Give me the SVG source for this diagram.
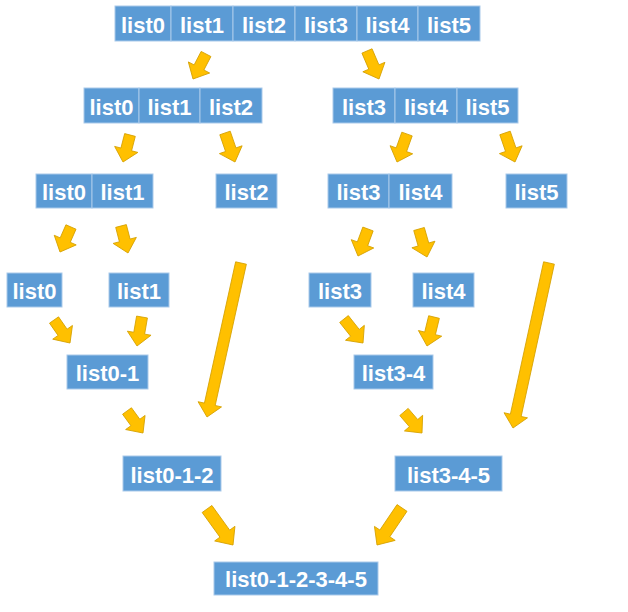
<svg xmlns="http://www.w3.org/2000/svg" width="628" height="612" viewBox="0 0 628 612">
<style>
.c{fill:#5B9BD5;stroke:#A9C9EA;stroke-width:1}
.t{fill:#fff;font-family:"Liberation Sans",Arial,sans-serif;font-weight:bold;font-size:22px;text-anchor:middle}
.a{fill:#FFC000;stroke:#D4A000;stroke-width:0.8;stroke-linejoin:miter}
</style>
<rect width="628" height="612" fill="#fff"/>
<g id="connectors">
<polygon class="a" points="-28.2,-5.5 -13,-5.5 -13,-12 0,0 -13,12 -13,5.5 -28.2,5.5" transform="translate(193,79) rotate(117.5)"/>
<polygon class="a" points="-30.5,-5.5 -13,-5.5 -13,-12 0,0 -13,12 -13,5.5 -30.5,5.5" transform="translate(379,79) rotate(66.8)"/>
<polygon class="a" points="-27.9,-5.5 -13,-5.5 -13,-12 0,0 -13,12 -13,5.5 -27.9,5.5" transform="translate(123,162) rotate(104.5)"/>
<polygon class="a" points="-30.7,-5.5 -13,-5.5 -13,-12 0,0 -13,12 -13,5.5 -30.7,5.5" transform="translate(235,162) rotate(71)"/>
<polygon class="a" points="-29.7,-5.5 -13,-5.5 -13,-12 0,0 -13,12 -13,5.5 -29.7,5.5" transform="translate(397,162) rotate(109.7)"/>
<polygon class="a" points="-30.7,-5.5 -13,-5.5 -13,-12 0,0 -13,12 -13,5.5 -30.7,5.5" transform="translate(515,162) rotate(71)"/>
<polygon class="a" points="-27.3,-5.5 -13,-5.5 -13,-12 0,0 -13,12 -13,5.5 -27.3,5.5" transform="translate(60,252) rotate(113.7)"/>
<polygon class="a" points="-27.9,-5.5 -13,-5.5 -13,-12 0,0 -13,12 -13,5.5 -27.9,5.5" transform="translate(128,253) rotate(75.5)"/>
<polygon class="a" points="-28.8,-5.5 -13,-5.5 -13,-12 0,0 -13,12 -13,5.5 -28.8,5.5" transform="translate(358,256) rotate(110.3)"/>
<polygon class="a" points="-29.1,-5.5 -13,-5.5 -13,-12 0,0 -13,12 -13,5.5 -29.1,5.5" transform="translate(427,257) rotate(74.1)"/>
<polygon class="a" points="-157.7,-5.5 -13,-5.5 -13,-12 0,0 -13,12 -13,5.5 -157.7,5.5" transform="translate(207,417) rotate(102.45)"/>
<polygon class="a" points="-168.9,-5.5 -13,-5.5 -13,-12 0,0 -13,12 -13,5.5 -168.9,5.5" transform="translate(513,428) rotate(102.3)"/>
<polygon class="a" points="-28,-5.5 -13,-5.5 -13,-12 0,0 -13,12 -13,5.5 -28,5.5" transform="translate(70,343) rotate(55.2)"/>
<polygon class="a" points="-29.4,-5.5 -13,-5.5 -13,-12 0,0 -13,12 -13,5.5 -29.4,5.5" transform="translate(137,346) rotate(99.8)"/>
<polygon class="a" points="-30.6,-5.5 -13,-5.5 -13,-12 0,0 -13,12 -13,5.5 -30.6,5.5" transform="translate(363,343) rotate(51.6)"/>
<polygon class="a" points="-29.8,-5.5 -13,-5.5 -13,-12 0,0 -13,12 -13,5.5 -29.8,5.5" transform="translate(427,346) rotate(103.6)"/>
<polygon class="a" points="-27.2,-5.5 -13,-5.5 -13,-12 0,0 -13,12 -13,5.5 -27.2,5.5" transform="translate(143,433) rotate(54)"/>
<polygon class="a" points="-27.7,-5.5 -13,-5.5 -13,-12 0,0 -13,12 -13,5.5 -27.7,5.5" transform="translate(422,433) rotate(49.4)"/>
<polygon class="a" points="-44.4,-6 -14,-6 -14,-12.5 0,0 -14,12.5 -14,6 -44.4,6" transform="translate(233,545) rotate(54.2)"/>
<polygon class="a" points="-44.7,-6 -14,-6 -14,-12.5 0,0 -14,12.5 -14,6 -44.7,6" transform="translate(377,545) rotate(124.05)"/>
</g>
<g id="row1">
<g id="r1-list0"><rect class="c" x="115" y="6" width="56" height="35"/><text class="t" x="143" y="32.5">list0</text></g>
<g id="r1-list1"><rect class="c" x="171" y="6" width="62" height="35"/><text class="t" x="202" y="32.5">list1</text></g>
<g id="r1-list2"><rect class="c" x="233" y="6" width="62" height="35"/><text class="t" x="264" y="32.5">list2</text></g>
<g id="r1-list3"><rect class="c" x="295" y="6" width="62" height="35"/><text class="t" x="326" y="32.5">list3</text></g>
<g id="r1-list4"><rect class="c" x="357" y="6" width="61" height="35"/><text class="t" x="387.5" y="32.5">list4</text></g>
<g id="r1-list5"><rect class="c" x="418" y="6" width="62" height="35"/><text class="t" x="449" y="32.5">list5</text></g>
</g>
<g id="row2">
<g id="r2-list0"><rect class="c" x="84" y="88" width="55" height="35"/><text class="t" x="111.5" y="114.5">list0</text></g>
<g id="r2-list1"><rect class="c" x="139" y="88" width="61" height="35"/><text class="t" x="169.5" y="114.5">list1</text></g>
<g id="r2-list2"><rect class="c" x="200" y="88" width="62" height="35"/><text class="t" x="231" y="114.5">list2</text></g>
<g id="r2-list3"><rect class="c" x="333" y="88" width="62" height="35"/><text class="t" x="364" y="114.5">list3</text></g>
<g id="r2-list4"><rect class="c" x="395" y="88" width="62" height="35"/><text class="t" x="426" y="114.5">list4</text></g>
<g id="r2-list5"><rect class="c" x="457" y="88" width="61" height="35"/><text class="t" x="487.5" y="114.5">list5</text></g>
</g>
<g id="row3">
<g id="r3-list0"><rect class="c" x="36" y="174" width="56" height="34"/><text class="t" x="64" y="200">list0</text></g>
<g id="r3-list1"><rect class="c" x="92" y="174" width="61" height="34"/><text class="t" x="122.5" y="200">list1</text></g>
<g id="r3-list2"><rect class="c" x="216" y="174" width="61" height="34"/><text class="t" x="246.5" y="200">list2</text></g>
<g id="r3-list3"><rect class="c" x="328" y="174" width="61" height="34"/><text class="t" x="358.5" y="200">list3</text></g>
<g id="r3-list4"><rect class="c" x="389" y="174" width="63" height="34"/><text class="t" x="420.5" y="200">list4</text></g>
<g id="r3-list5"><rect class="c" x="506" y="174" width="61" height="34"/><text class="t" x="536.5" y="200">list5</text></g>
</g>
<g id="row4">
<g id="r4-list0"><rect class="c" x="7" y="273" width="55" height="34"/><text class="t" x="34.5" y="299">list0</text></g>
<g id="r4-list1"><rect class="c" x="109" y="273" width="60" height="34"/><text class="t" x="139" y="299">list1</text></g>
<g id="r4-list3"><rect class="c" x="309" y="273" width="62" height="34"/><text class="t" x="340" y="299">list3</text></g>
<g id="r4-list4"><rect class="c" x="413" y="273" width="61" height="34"/><text class="t" x="443.5" y="299">list4</text></g>
</g>
<g id="list0-1"><rect class="c" x="67" y="355" width="81" height="34"/><text class="t" x="107.5" y="381">list0-1</text></g>
<g id="list3-4"><rect class="c" x="354" y="355" width="79" height="34"/><text class="t" x="393.5" y="381">list3-4</text></g>
<g id="list0-1-2"><rect class="c" x="123" y="456" width="98" height="35"/><text class="t" x="172" y="482.5">list0-1-2</text></g>
<g id="list3-4-5"><rect class="c" x="395" y="456" width="107" height="35"/><text class="t" x="448.5" y="482.5">list3-4-5</text></g>
<g id="list0-1-2-3-4-5"><rect class="c" x="214" y="562" width="164" height="33"/><text class="t" x="296" y="587">list0-1-2-3-4-5</text></g>
</svg>
